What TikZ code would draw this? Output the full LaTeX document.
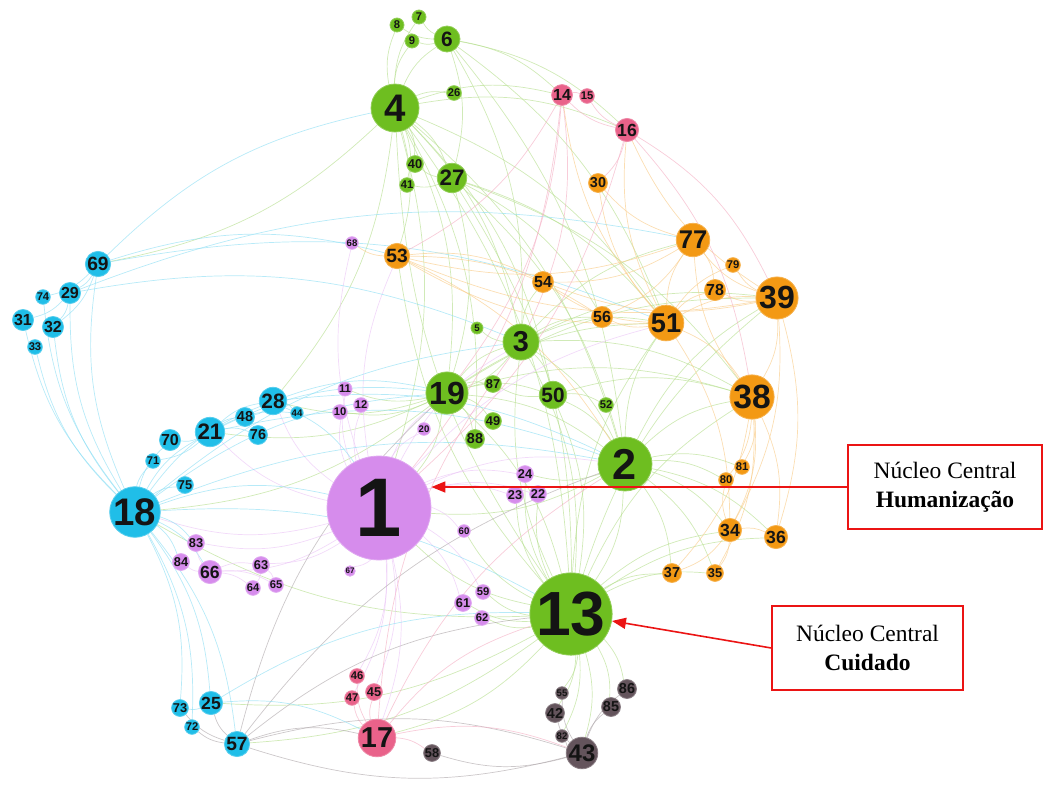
\documentclass[tikz,border=0pt]{standalone}
\usepackage{fontspec}
\setmainfont{Liberation Serif}
\setsansfont{Liberation Sans}
\usetikzlibrary{arrows.meta,backgrounds}

\definecolor{cgreen}{RGB}{110,190,32}
\definecolor{corange}{RGB}{243,153,20}
\definecolor{cpurple}{RGB}{214,140,236}
\definecolor{ccyan}{RGB}{32,190,232}
\definecolor{cpink}{RGB}{233,98,138}
\definecolor{cgrey}{RGB}{100,84,92}
\definecolor{calred}{RGB}{235,20,20}

\tikzset{
  vert/.style={circle, fill=#1, draw=#1!75!white, line width=0.8pt, inner sep=0pt,
    text=black!92, font=\sffamily\bfseries},
  link/.style={#1!50!white, line width=0.7pt, opacity=0.65},
  callout/.style={draw=calred, line width=1.4pt, fill=white, align=center, inner sep=0pt,
    minimum height=84pt, font=\fontsize{23.5}{29}\selectfont},
  callarrow/.style={calred, line width=1.6pt, -{Triangle[length=14pt,width=11pt]}}
}

\begin{document}
\begin{tikzpicture}[x=1pt,y=-1pt]
    \useasboundingbox (0,0) rectangle (1044,785);
    \foreach \n/\x/\y/\r/\c in {
        4/395/108/24/cgreen, 6/447/39/13/cgreen, 8/397/25/7/cgreen, 7/419/17/7/cgreen,
        9/412/41/7/cgreen, 26/454/93/7/cgreen, 40/415/164/8/cgreen, 41/407/185/7/cgreen,
        27/452/178/14/cgreen, 3/521/342/18/cgreen, 5/477/328/6/cgreen, 19/447/393/20/cgreen,
        87/493/384/8/cgreen, 50/553/395/13/cgreen, 52/606/405/7/cgreen, 49/493/421/8/cgreen,
        88/475/439/9/cgreen, 2/625/464/27/cgreen, 13/571/614/39/cgreen,
        14/562/95/10/cpink, 15/587/96/7/cpink, 16/627/130/11/cpink, 46/357/676/7/cpink,
        47/352/698/7/cpink, 45/374/692/8/cpink, 17/377/738/18/cpink,
        30/598/183/9/corange, 53/397/256/12/corange, 77/693/240/16/corange, 79/733/265/7/corange,
        78/715/290/10/corange, 39/777/298/20/corange, 54/543/282/10/corange, 56/602/317/10/corange,
        51/666/323/17/corange, 38/752/397/21/corange, 81/742/467/7/corange, 80/726/480/7/corange,
        34/730/530/11/corange, 36/776/537/11/corange, 37/672/573/9/corange, 35/715/573/8/corange,
        1/379/508/52/cpurple, 68/352/243/6/cpurple, 11/345/389/7/cpurple, 12/361/405/7/cpurple,
        10/340/412/7/cpurple, 20/424/429/6/cpurple, 24/525/474/8/cpurple, 23/515/495/8/cpurple,
        22/538/494/8/cpurple, 60/464/531/6/cpurple, 67/350/571/5/cpurple, 83/196/543/8/cpurple,
        84/181/562/8/cpurple, 66/210/572/11/cpurple, 63/261/565/8/cpurple, 64/253/588/7/cpurple,
        65/276/585/7/cpurple, 59/483/592/7/cpurple, 61/463/603/8/cpurple, 62/482/618/7/cpurple,
        69/98/264/12/ccyan, 74/43/297/7/ccyan, 29/70/293/10/ccyan, 31/23/320/10/ccyan,
        32/53/327/10/ccyan, 33/35/347/7/ccyan, 18/135/512/24/ccyan, 21/210/432/14/ccyan,
        28/273/401/13/ccyan, 70/170/440/10/ccyan, 71/153/461/7/ccyan, 75/185/485/8/ccyan,
        48/245/417/9/ccyan, 76/258/435/9/ccyan, 44/297/413/6/ccyan, 73/180/708/8/ccyan,
        25/211/703/11/ccyan, 72/192/727/7/ccyan, 57/237/744/12/ccyan,
        43/582/753/15/cgrey, 55/562/693/6/cgrey, 42/555/713/9/cgrey, 82/562/736/6/cgrey,
        85/611/707/9/cgrey, 86/627/689/9/cgrey, 58/432/753/8/cgrey}{
        \pgfmathsetmacro\fs{1.6*\r}
        \pgfmathsetmacro\dm{2*\r}
        \node[vert=\c, minimum size=\dm pt] (n\n) at (\x,\y) {\fontsize{\fs}{\fs}\selectfont\n};
    }
    \begin{pgfonlayer}{background}
        \foreach \s/\c/\ts in {
            4/cgreen/{6,8,9,7,26,40,41,27,19,14,16,53,3,2,13,1,69,51,28,50,88},
            6/cgreen/{14,16,9,7,8,27,3,51,2},
            27/cgreen/{40,41,2,51,13,19,38,56},
            19/cgreen/{87,50,3,2,13,1,49,88,28,21,18,51,38,39,10,11},
            3/cgreen/{5,50,2,13,51,39,77,54,56,38,19},
            50/cgreen/{52,2,13,38,87},
            2/cgreen/{13,38,39,51,34,36,80,81,1,37,35,24},
            13/cgreen/{42,55,82,43,85,86,37,35,34,36,38,39,59,61,62,1,18,25,57,17,22,23,24,60,53,3,51,4},
            1/cpurple/{10,11,12,20,67,60,21,28,18,83,66,63,17,46,47,45,53,68,24,22,23,19,51,2,3,59,61},
            18/ccyan/{69,31,32,33,74,29,70,71,75,21,73,72,25,57,83,84,66,2,19,3,1,13,28},
            21/ccyan/{70,28,48,76,44,71,19,2},
            28/ccyan/{48,44,19,2,1},
            69/ccyan/{29,74,4,51,53,32},
            29/ccyan/{32,31,77,3},
            57/cgrey/{25,73,72,17,43,13,19,2},
            25/ccyan/{73,13,17},
            17/cpink/{45,46,47,58,43,2,3,13},
            43/cgrey/{42,55,82,85,86,58,57},
            51/corange/{77,78,79,39,38,56,54,53,30,16,14,34},
            39/corange/{77,79,78,38,34,36,16,53,54},
            38/corange/{80,81,34,36,77,35,37},
            77/corange/{30,78,53,54,56},
            53/corange/{54,56,2,68},
            34/corange/{36,35,37,80},
            16/cpink/{14,15,30,39,1,38},
            14/cpink/{15,53,19,1,3},
            66/cpurple/{84,83,63,64,65},
            63/cpurple/{64,65}}{
            \foreach \t in \ts
                \draw[link=\c] (n\s) to[bend left=16] (n\t);
        }
    \end{pgfonlayer}
    \node[callout, minimum width=194pt] (hum) at (945,487) {Núcleo Central\\\textbf{Humanização}};
    \node[callout, minimum width=191pt] (cui) at (867.5,648) {Núcleo Central\\\textbf{Cuidado}};
    \draw[callarrow] (hum.west) -- (n1.east |- hum.west);
    \draw[callarrow] (cui.west) -- (n13);
\end{tikzpicture}
\end{document}
